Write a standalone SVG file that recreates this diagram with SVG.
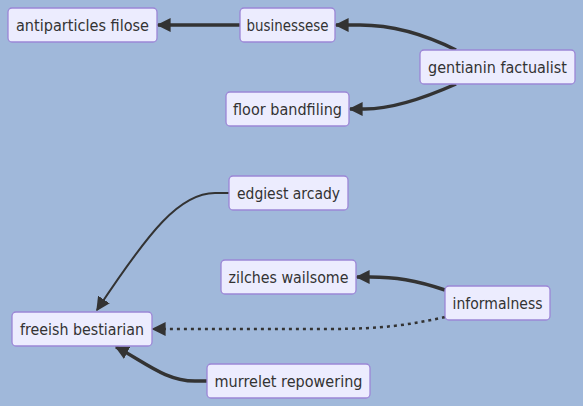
<svg xmlns="http://www.w3.org/2000/svg" width="583" height="406" viewBox="0 0 583 406">
<style>
.bg{fill:#a0b8da}
.node rect{fill:#ececfe;stroke:#9b86d6;stroke-width:1.3}
.node text{font-family:"DejaVu Sans",sans-serif;font-size:15.5px;fill:#333;text-anchor:middle}
.e{fill:none;stroke:#333}
.thick{stroke-width:3.5}
.thin{stroke-width:2}
.dot{stroke-width:2.5;stroke-dasharray:3 4}
</style>
<defs>
<marker id="ah" viewBox="0 0 10 10" refX="9" refY="5" markerUnits="userSpaceOnUse" markerWidth="14" markerHeight="14" orient="auto">
<path d="M0,0 L10,5 L0,10 z" fill="#333"/>
</marker>
</defs>
<rect class="bg" x="0" y="0" width="583" height="406"/>
<g id="connectors">
<path class="e thick" d="M240,25 L158,25" marker-end="url(#ah)"/>
<path class="e thick" d="M456,50 C420,32 390,25 360,25 L336,25" marker-end="url(#ah)"/>
<path class="e thick" d="M456,84 C420,100 390,109 365,109 L350,109" marker-end="url(#ah)"/>
<path class="e thin" d="M229,193 L215,193 C180,193 150,230 97,310" marker-end="url(#ah)"/>
<path class="e thick" d="M445,290 C415,280 395,277 370,277 L357,277" marker-end="url(#ah)"/>
<path class="e dot" d="M445,317 C410,325 380,329 330,329 L153,329" marker-end="url(#ah)"/>
<path class="e thick" d="M207,381 L195,381 C165,381 145,362 116,347" marker-end="url(#ah)"/>
</g>
<g id="n1" class="node"><rect x="8" y="8" width="149" height="34" rx="4"/><text x="82.5" y="31" textLength="133" lengthAdjust="spacingAndGlyphs">antiparticles filose</text></g>
<g id="n2" class="node"><rect x="240" y="8" width="95" height="34" rx="4"/><text x="287.5" y="31" textLength="82" lengthAdjust="spacingAndGlyphs">businessese</text></g>
<g id="n3" class="node"><rect x="420" y="50" width="155" height="34" rx="4"/><text x="497.5" y="73" textLength="139" lengthAdjust="spacingAndGlyphs">gentianin factualist</text></g>
<g id="n4" class="node"><rect x="226" y="92" width="123" height="34" rx="4"/><text x="287.5" y="115" textLength="109" lengthAdjust="spacingAndGlyphs">floor bandfiling</text></g>
<g id="n5" class="node"><rect x="229" y="176" width="119" height="34" rx="4"/><text x="288.5" y="199" textLength="103" lengthAdjust="spacingAndGlyphs">edgiest arcady</text></g>
<g id="n6" class="node"><rect x="221" y="260" width="135" height="34" rx="4"/><text x="288.5" y="283" textLength="120" lengthAdjust="spacingAndGlyphs">zilches wailsome</text></g>
<g id="n7" class="node"><rect x="445" y="286" width="105" height="34" rx="4"/><text x="497.5" y="309" textLength="90" lengthAdjust="spacingAndGlyphs">informalness</text></g>
<g id="n8" class="node"><rect x="12" y="312" width="140" height="34" rx="4"/><text x="82" y="335" textLength="124" lengthAdjust="spacingAndGlyphs">freeish bestiarian</text></g>
<g id="n9" class="node"><rect x="207" y="364" width="163" height="34" rx="4"/><text x="288.5" y="387" textLength="148" lengthAdjust="spacingAndGlyphs">murrelet repowering</text></g>
</svg>
